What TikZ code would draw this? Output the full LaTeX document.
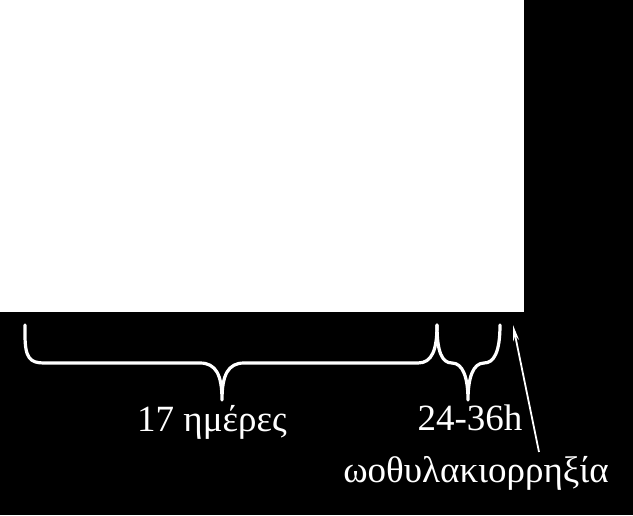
\documentclass[tikz,border=0pt]{standalone}
\usepackage{fontspec}
\setmainfont{Liberation Serif}
\usetikzlibrary{arrows.meta}
\begin{document}
\begin{tikzpicture}[x=1pt,y=-1pt,
  bracestyle/.style={draw=white,line width=3.2pt,line cap=round,line join=round},
  lbl/.style={text=white,font=\fontsize{37}{40}\selectfont,inner sep=0pt,anchor=base},
  arr/.style={draw=white,line width=1.8pt,-{Stealth[length=16pt,width=6pt]}}]
\fill[black] (0,0) rectangle (633,515);
\useasboundingbox (0,0) rectangle (633,515);
\fill[white] (0,0) rectangle (524,312);
% brace 1
\draw[bracestyle] (25,325) -- (25,335) .. controls (25,358) and (30,363) .. (44,363)
  -- (200,363) .. controls (216,363) and (222,375) .. (222,400)
  .. controls (222,375) and (228,363) .. (244,363)
  -- (418,363) .. controls (432,363) and (437,350) .. (437,325);
% brace 2
\draw[bracestyle] (437,325) .. controls (437,352) and (442,363) .. (452,363)
  .. controls (463,363) and (468,378) .. (468,400)
  .. controls (468,378) and (473,363) .. (484,363)
  .. controls (494,363) and (500,352) .. (500,325);
\node[lbl] (d17) at (212,431) {17 ημέρες};
\node[lbl] (h) at (470,430) {24-36h};
\node[lbl] (ow) at (476,482) {ωοθυλακιορρηξία};
\coordinate (atip) at (513,325);
\coordinate (atail) at (539,452);
\draw[arr] (atail) -- (atip);
\end{tikzpicture}
\end{document}
